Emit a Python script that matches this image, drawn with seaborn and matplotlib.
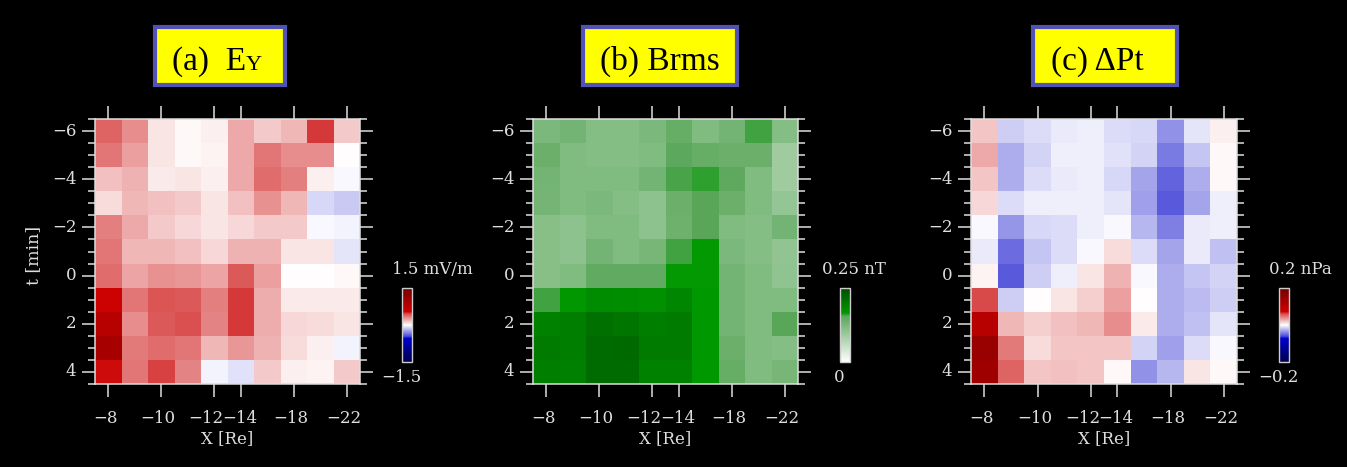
import numpy as np
import pandas as pd
import seaborn as sns
import matplotlib.pyplot as plt
import matplotlib.transforms as mtransforms
from matplotlib.colors import LinearSegmentedColormap
from matplotlib.patches import Rectangle
from matplotlib.ticker import FixedLocator

# grid of the three maps
x_re = [-8, -9, -10, -11, -12, -14, -16, -18, -20, -22]
t_min = [-6, -5, -4, -3, -2, -1, 0, 1, 2, 3, 4]
x_labeled = [-8, -10, -12, -14, -18, -22]
t_labeled = [-6, -4, -2, 0, 2, 4]

# (a) Ey [mV/m]
ey = [
    [0.39, 0.29, 0.06, 0.02, 0.045, 0.22, 0.14, 0.18, 0.47, 0.14],
    [0.35, 0.24, 0.06, 0.02, 0.025, 0.22, 0.34, 0.29, 0.29, 0.005],
    [0.16, 0.19, 0.05, 0.06, 0.04, 0.22, 0.37, 0.32, 0.045, -0.02],
    [0.09, 0.18, 0.16, 0.13, 0.06, 0.155, 0.28, 0.18, -0.10, -0.14],
    [0.32, 0.22, 0.13, 0.10, 0.065, 0.10, 0.13, 0.13, -0.02, -0.03],
    [0.35, 0.18, 0.18, 0.155, 0.10, 0.19, 0.19, 0.065, 0.065, -0.065],
    [0.37, 0.23, 0.28, 0.26, 0.23, 0.42, 0.24, 0.005, 0.005, 0.02],
    [0.55, 0.35, 0.43, 0.42, 0.32, 0.48, 0.21, 0.05, 0.05, 0.05],
    [0.77, 0.29, 0.42, 0.44, 0.31, 0.48, 0.21, 0.10, 0.09, 0.065],
    [0.96, 0.33, 0.37, 0.35, 0.18, 0.26, 0.19, 0.09, 0.04, -0.03],
    [0.53, 0.35, 0.46, 0.31, -0.03, -0.08, 0.14, 0.045, 0.025, 0.13],
]

# (b) Brms [nT]
brms = [
    [0.124, 0.131, 0.114, 0.114, 0.124, 0.143, 0.119, 0.131, 0.158, 0.114],
    [0.138, 0.119, 0.114, 0.114, 0.119, 0.152, 0.143, 0.138, 0.138, 0.090],
    [0.131, 0.119, 0.119, 0.119, 0.131, 0.157, 0.160, 0.150, 0.119, 0.090],
    [0.129, 0.119, 0.124, 0.114, 0.107, 0.138, 0.155, 0.138, 0.119, 0.100],
    [0.112, 0.107, 0.119, 0.119, 0.107, 0.136, 0.155, 0.119, 0.114, 0.131],
    [0.112, 0.107, 0.131, 0.119, 0.126, 0.158, 0.165, 0.124, 0.114, 0.103],
    [0.112, 0.119, 0.148, 0.148, 0.148, 0.165, 0.165, 0.131, 0.119, 0.105],
    [0.158, 0.167, 0.179, 0.177, 0.174, 0.186, 0.166, 0.131, 0.119, 0.119],
    [0.190, 0.195, 0.210, 0.205, 0.195, 0.198, 0.166, 0.131, 0.119, 0.155],
    [0.198, 0.195, 0.215, 0.218, 0.198, 0.198, 0.166, 0.138, 0.119, 0.114],
    [0.195, 0.193, 0.215, 0.215, 0.190, 0.190, 0.166, 0.143, 0.119, 0.126],
]

# (c) delta Pt [nPa]
dpt = [
    [0.019, -0.017, -0.011, -0.007, -0.006, -0.011, -0.013, -0.037, -0.009, 0.005],
    [0.029, -0.028, -0.015, -0.006, -0.006, -0.010, -0.015, -0.044, -0.019, 0.003],
    [0.019, -0.027, -0.011, -0.007, -0.006, -0.013, -0.030, -0.053, -0.027, 0.003],
    [0.013, -0.011, -0.006, -0.006, -0.006, -0.009, -0.032, -0.056, -0.030, -0.006],
    [-0.003, -0.035, -0.013, -0.011, -0.006, -0.002, -0.025, -0.043, -0.007, -0.006],
    [-0.007, -0.049, -0.019, -0.011, -0.002, 0.012, -0.011, -0.030, -0.007, -0.021],
    [0.004, -0.055, -0.017, -0.006, 0.009, 0.025, -0.002, -0.027, -0.019, -0.015],
    [0.060, -0.017, 0.000, 0.009, 0.017, 0.032, 0.001, -0.027, -0.023, -0.017],
    [0.103, 0.024, 0.017, 0.021, 0.024, 0.039, 0.007, -0.027, -0.021, -0.009],
    [0.145, 0.044, 0.012, 0.019, 0.019, 0.019, -0.015, -0.032, -0.011, -0.003],
    [0.139, 0.052, 0.019, 0.021, 0.019, 0.003, -0.037, -0.025, 0.009, 0.003],
]

W, H = 1347, 467
fg = '0.87'

rb_cmap = LinearSegmentedColormap.from_list('rb', [
    (0.0, (0.0, 0.0, 0.3)), (0.317, (0.0, 0.0, 0.8)), (0.35, (0.3, 0.3, 0.85)),
    (0.5, (1.0, 1.0, 1.0)), (0.65, (0.85, 0.3, 0.3)), (0.683, (0.8, 0.0, 0.0)),
    (1.0, (0.45, 0.0, 0.0))])
gr_cmap = LinearSegmentedColormap.from_list('gr', [
    (0.0, (1.0, 1.0, 1.0)), (0.62, (0.35, 0.65, 0.35)), (0.66, (0.0, 0.6, 0.0)),
    (1.0, (0.0, 0.3, 0.0))])

plt.rcParams['font.family'] = ['DejaVu Serif']

# small horizontal nudges (px) of the x tick labels, like in the original figure
x_nudge = [-3, -3, -8, -1, -3, -3]


def box(x0, y0, x1, y1):
    # pixel box (top-left origin) -> figure fraction rect
    return [x0 / W, 1 - y1 / H, (x1 - x0) / W, (y1 - y0) / H]


def draw_panel(fig, rect, crect, data, cmap, vmin, vmax, top_lbl, top_x, bot_lbl):
    ax = fig.add_axes(box(*rect))
    cax = fig.add_axes(box(*crect))
    df = pd.DataFrame(data, index=t_min, columns=x_re)
    sns.heatmap(df, ax=ax, cmap=cmap, vmin=vmin, vmax=vmax, cbar_ax=cax, linewidths=0)

    ax.set_xticks([x_re.index(v) + 0.5 for v in x_labeled])
    ax.set_xticklabels([str(v).replace('-', '\u2212') for v in x_labeled], rotation=0)
    ax.set_yticks([t_min.index(v) + 0.5 for v in t_labeled])
    ax.set_yticklabels([str(v).replace('-', '\u2212') for v in t_labeled], rotation=0)
    ax.yaxis.set_minor_locator(FixedLocator(np.arange(0, len(t_min) + 0.01, 0.5)))
    ax.tick_params(which='both', direction='out', colors=fg, labelsize=12,
                   top=True, right=True, width=1.1)
    ax.tick_params(which='major', length=9.5)
    ax.tick_params(which='minor', length=5)
    ax.tick_params(axis='x', pad=9.5)
    ax.tick_params(axis='y', pad=4)
    for lbl, dx in zip(ax.get_xticklabels(), x_nudge):
        off = mtransforms.ScaledTranslation(dx / 100, 0, fig.dpi_scale_trans)
        lbl.set_transform(lbl.get_transform() + off)
    for s in ax.spines.values():
        s.set_visible(True)
        s.set_color(fg)
        s.set_linewidth(1.1)
    ax.set_xlabel('X [Re]', color=fg, fontsize=12, labelpad=2)
    ax.set_ylabel('')

    cb = ax.collections[0].colorbar
    cb.set_ticks([])
    cb.outline.set_edgecolor('0.8')
    cb.outline.set_linewidth(1.0)
    fig.text(top_x / W, 1 - 270 / H, top_lbl, color=fg, fontsize=12, ha='left', va='center')
    fig.text((crect[0] - 1) / W, 1 - 377 / H, bot_lbl, color=fg, fontsize=12, ha='center', va='center')
    return ax


def title_box(fig, rect):
    fig.patches.append(Rectangle((rect[0], rect[1]), rect[2], rect[3], transform=fig.transFigure,
                                 facecolor='#ffff00', edgecolor='#5252b4', linewidth=3, zorder=1))


fig = plt.figure(figsize=(W / 100, H / 100), dpi=100, facecolor='black')

draw_panel(fig, (95, 119, 360, 384), (402, 288, 412, 362), ey, rb_cmap, -1.5, 1.5,
           '1.5 mV/m', 392, '\u22121.5')
draw_panel(fig, (533, 119, 798, 384), (840, 288, 850, 362), brms, gr_cmap, 0, 0.25,
           '0.25 nT', 822, '0')
draw_panel(fig, (971, 119, 1237, 384), (1279, 288, 1289, 362), dpt, rb_cmap, -0.2, 0.2,
           '0.2 nPa', 1269, '\u22120.2')

fig.text(34 / W, 1 - 255 / H, 't [min]', color=fg, fontsize=12.5, rotation=90, ha='center', va='center')

# title boxes
title_box(fig, box(155, 27, 285, 85))
title_box(fig, box(583, 27, 737, 85))
title_box(fig, box(1033, 27, 1177, 85))
tfont = dict(family='Liberation Serif', color='black', va='baseline', zorder=3)
fig.text(172 / W, 1 - 70 / H, '(a)  E', fontsize=24, ha='left', **tfont)
fig.text(246 / W, 1 - 70 / H, 'Y', fontsize=16, ha='left', **tfont)
fig.text(660 / W, 1 - 70 / H, '(b) Brms', fontsize=24, ha='center', **tfont)
fig.text(1097 / W, 1 - 70 / H, '(c) \u0394Pt', fontsize=24, ha='center', **tfont)

fig.savefig('out.png', dpi=100, facecolor='black')
